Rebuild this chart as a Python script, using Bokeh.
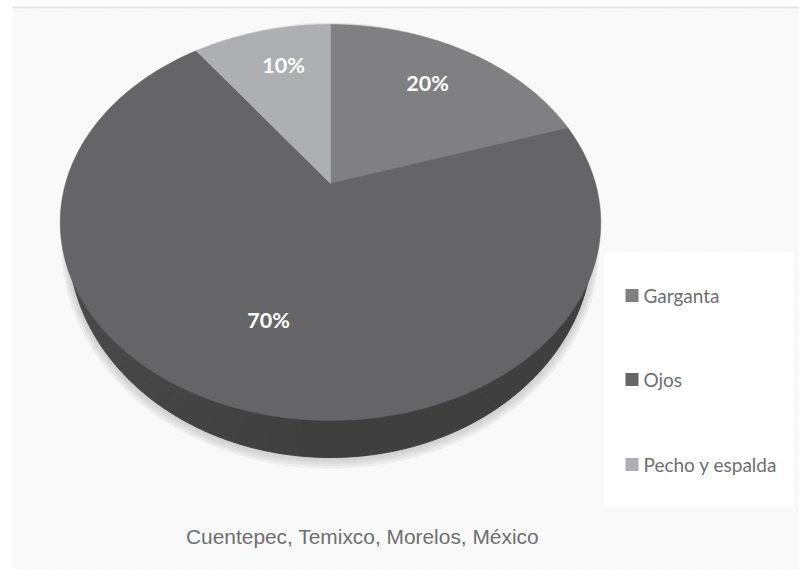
import numpy as np
from bokeh.plotting import figure
from bokeh.models import Range1d
from bokeh.core.properties import value
from bokeh.embed import file_html
from bokeh.resources import INLINE

categories = ["Garganta", "Ojos", "Pecho y espalda"]
values = [20, 70, 10]
top_colors = ["#808083", "#656567", "#aeafb3"]
percent_labels = ["20%", "70%", "10%"]
label_xs = [427, 268, 283]
label_ys = [82, 319, 64]
legend_ys = [295, 379, 464]
title_text = "Cuentepec, Temixco, Morelos, México"

W, H = 799, 569
p = figure(width=W, height=H, output_backend="svg", toolbar_location=None,
           x_range=Range1d(0, W), y_range=Range1d(H, 0),
           min_border=0, outline_line_color=None, background_fill_color="white",
           border_fill_color="white")
p.axis.visible = False
p.grid.visible = False

# page panel with its faint diagonal texture
p.quad(left=[12], right=[W], top=[8], bottom=[H], fill_color="#fbfbfb", line_color=None,
       hatch_pattern="left_diagonal_line", hatch_color="#f6f6f6", hatch_scale=5, hatch_weight=1)
p.line([12, W], [7, 7], line_color="#e4e4e4", line_width=2)
p.quad(left=[604], right=[793], top=[252], bottom=[506], fill_color="#ffffff", line_color=None)

# perspective of the pie's top face
CX, CY = 330.0, 183.0
R, A, K = 265.0, 190.3, 0.197


def proj(theta, f=1.0):
    s, c = np.sin(theta) * f, np.cos(theta) * f
    d = 1 + K * c
    return CX + R * s / d, CY - A * c / d


# lower outline of the body
LX, LY, LA, LB = 330.0, 241.0, 262.0, 216.0


def lower(t, grow=0.0, drop=0.0):
    return LX + (LA + grow) * np.sin(t), LY + drop + (LB + grow) * -np.cos(t)


# soft shadow
for g in [9, 7, 5, 3, 1]:
    t = np.linspace(0, 2 * np.pi, 240)
    x, y = lower(t, g * 0.8, g * 0.45)
    p.patch(x, y, fill_color="#80828a", fill_alpha=0.09, line_color=None)

# wall, shaded by direction
edges = np.linspace(np.pi * 0.4, np.pi * 1.6, 61)
xs, ys, cols = [], [], []
for a, b in zip(edges[:-1], edges[1:]):
    t = np.linspace(a, b, 5)
    x, y = lower(t)
    xs.append(np.r_[LX, x].tolist())
    ys.append(np.r_[LY, y].tolist())
    m = (a + b) / 2
    w = np.clip((m - np.pi) / (np.pi * 0.5), 0, 1)
    g = int(63 + 13 * w)
    cols.append(f"#{g:02x}{g:02x}{g + 1:02x}")
p.patches(xs, ys, fill_color=cols, line_color=cols, line_width=1)

# top face slices
fractions = np.array(values, dtype=float) / sum(values)
bounds = np.r_[0, np.cumsum(fractions)] * 2 * np.pi
sx, sy = [], []
for a, b in zip(bounds[:-1], bounds[1:]):
    t = np.linspace(a, b, 200)
    x, y = proj(t)
    sx.append(np.r_[CX, x].tolist())
    sy.append(np.r_[CY, y].tolist())
p.patches(sx, sy, fill_color=top_colors, line_color=top_colors, line_width=0.5)

# percent labels
p.text(label_xs, label_ys, text=percent_labels, text_color="#ffffff",
       text_font=value("Lato"), text_font_style="bold", text_font_size="21.5px",
       text_align="center", text_baseline="middle")

# legend
n = len(categories)
p.rect([631.5] * n, legend_ys, width=13, height=13, fill_color=top_colors, line_color=None)
p.text([643] * n, legend_ys, text=categories, text_color="#6d6e72",
       text_font=value("Lato"), text_font_size="19px",
       text_align="left", text_baseline="middle")

# caption
p.text([362], [536], text=[title_text], text_color="#6d6e71",
       text_font=value("Liberation Sans"), text_font_size="20.9px",
       text_align="center", text_baseline="middle")

open("out.html", "w").write(file_html(p, INLINE))
